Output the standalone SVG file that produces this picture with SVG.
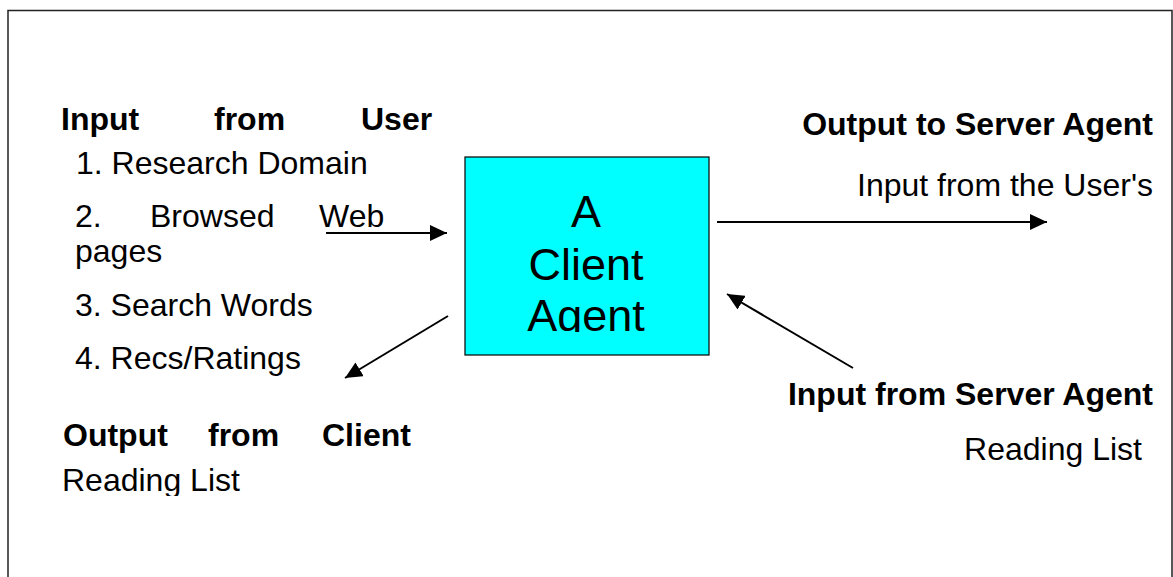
<svg xmlns="http://www.w3.org/2000/svg" width="1173" height="577" viewBox="0 0 1173 577">
<style>
.t{font-family:"Liberation Sans",Arial,sans-serif;font-size:32px;fill:#000}
.b{font-weight:bold}
.c{font-family:"Liberation Sans",Arial,sans-serif;font-size:45px;fill:#000;text-anchor:middle}
.e{text-anchor:end}
.ln{stroke:#000;stroke-width:2;fill:none}
</style>
<defs>
<marker id="ah" markerUnits="userSpaceOnUse" markerWidth="19" markerHeight="16" refX="17" refY="8" orient="auto">
<path d="M0,0 L17,8 L0,16 Z" fill="#000"/>
</marker>
<clipPath id="boxclip"><rect x="465" y="157" width="244" height="175"/></clipPath>
<clipPath id="rlclip"><rect x="0" y="450" width="400" height="46"/></clipPath>
</defs>
<rect width="1173" height="577" fill="#fff"/>
<path d="M8,577 V10.5 H1172 V577" fill="none" stroke="#222" stroke-width="1.5"/>
<g id="client-agent">
<rect x="465" y="157" width="244" height="198" fill="#00FFFF" stroke="#000" stroke-width="1.2"/>
<g clip-path="url(#boxclip)">
<text class="c" x="586" y="227">A</text>
<text class="c" x="586" y="280">Client</text>
<text class="c" x="586" y="331">Agent</text>
</g>
</g>
<g id="input-from-user">
<text class="t b" x="61" y="130">Input</text>
<text class="t b" x="214" y="130">from</text>
<text class="t b" x="361" y="130">User</text>
<text class="t" x="76" y="174">1. Research Domain</text>
<text class="t" x="75" y="227">2.</text>
<text class="t" x="150" y="227">Browsed</text>
<text class="t" x="319" y="227">Web</text>
<text class="t" x="75" y="262">pages</text>
<text class="t" x="75" y="316">3. Search Words</text>
<text class="t" x="75" y="369">4. Recs/Ratings</text>
</g>
<g id="output-from-client">
<text class="t b" x="63" y="446">Output</text>
<text class="t b" x="208" y="446">from</text>
<text class="t b" x="322" y="446">Client</text>
<g clip-path="url(#rlclip)"><text class="t" x="62" y="491">Reading List</text></g>
</g>
<g id="output-to-server">
<text class="t b e" x="1153" y="135">Output to Server Agent</text>
<text class="t e" x="1153" y="196">Input from the User's</text>
</g>
<g id="input-from-server">
<text class="t b e" x="1153" y="405">Input from Server Agent</text>
<text class="t e" x="1142" y="460">Reading List</text>
</g>
<g id="connectors">
<line class="ln" x1="326" y1="233" x2="447" y2="233" marker-end="url(#ah)"/>
<line class="ln" x1="717" y1="222" x2="1047" y2="222" marker-end="url(#ah)"/>
<line class="ln" x1="448" y1="316" x2="345" y2="378" marker-end="url(#ah)"/>
<line class="ln" x1="853" y1="368" x2="727" y2="294" marker-end="url(#ah)"/>
</g>
</svg>
